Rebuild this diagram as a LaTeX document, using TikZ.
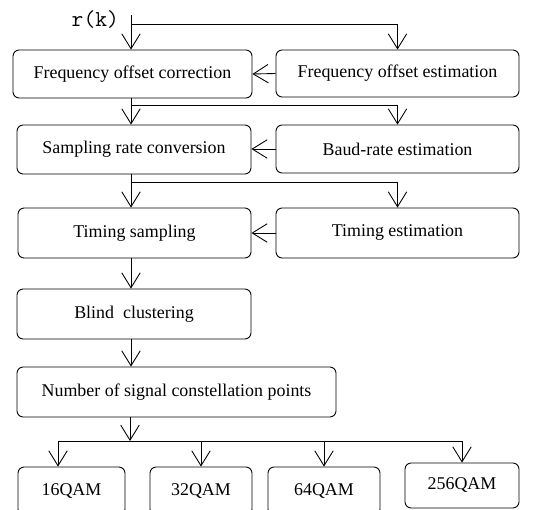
\documentclass[tikz,border=0pt]{standalone}
\usepackage{fontspec}
\setmainfont{Liberation Serif}
\usetikzlibrary{arrows.meta, positioning, calc}

\tikzset{
  blk/.style={draw, rounded corners=3.5pt, line width=0.5pt, inner sep=0pt,
    font=\fontsize{10.2}{12}\selectfont},
  arr/.style={line width=0.5pt, -{Straight Barb[length=8.5pt, width=10.5pt, line width=0.5pt]}},
  ln/.style={line width=0.5pt}
}

\begin{document}
\begin{tikzpicture}[x=0.02cm, y=-0.02cm]
  \useasboundingbox (0,0) rectangle (538,510);
  % left column
  \node[blk, minimum width=239*0.02cm, minimum height=48*0.02cm] (corr) at (132.5,74) {Frequency offset correction};
  \node[blk, minimum width=234*0.02cm, minimum height=49*0.02cm] (src) at (134,149.5) {Sampling rate conversion};
  \node[blk, minimum width=233*0.02cm, minimum height=50*0.02cm] (tsamp) at (134.5,233) {Timing sampling};
  \node[blk, minimum width=234*0.02cm, minimum height=50*0.02cm] (blind) at (134,314) {Blind\ \ clustering};
  \node[blk, minimum width=319*0.02cm, minimum height=50*0.02cm] (num) at (176.5,392) {Number of signal constellation points};
  % right column
  \node[blk, minimum width=243*0.02cm, minimum height=47*0.02cm] (foest) at (397.5,73.5) {Frequency offset estimation};
  \node[blk, minimum width=243*0.02cm, minimum height=48*0.02cm] (baud) at (397.5,149) {Baud-rate estimation};
  \node[blk, minimum width=243*0.02cm, minimum height=50*0.02cm] (test) at (397.5,233) {Timing estimation};
  % modulation types
  \node[blk, minimum width=107*0.02cm, minimum height=48*0.02cm] (q16) at (71.5,491) {16QAM};
  \node[blk, minimum width=102*0.02cm, minimum height=48*0.02cm] (q32) at (201,491) {32QAM};
  \node[blk, minimum width=112*0.02cm, minimum height=48*0.02cm] (q64) at (324,491) {64QAM};
  \node[blk, minimum width=114*0.02cm, minimum height=45*0.02cm] (q256) at (462,485.5) {256QAM};

  % input
  \coordinate (in) at (131,15);
  \coordinate (b0) at (131,24);
  \node[font=\ttfamily\fontsize{13}{14}\selectfont, anchor=east] (rk) at (125,20) {r(k)};
  \draw[arr] (in) -- (corr.north -| in);
  \draw[arr] (b0) -| (foest.north);
  \draw[arr] (foest.west) -- (corr.east);
  % second stage
  \coordinate (b1) at (131,105);
  \draw[arr] (corr.south -| b1) -- (src.north -| b1);
  \draw[arr] (b1) -| (baud.north);
  \draw[arr] (baud.west) -- (src.east |- baud.west);
  % third stage
  \coordinate (b2) at (131,182);
  \draw[arr] (src.south -| b2) -- (tsamp.north -| b2);
  \draw[arr] (b2) -| (test.north);
  \draw[arr] (test.west) -- (tsamp.east);
  % clustering
  \draw[arr] (tsamp.south -| b2) -- (blind.north -| b2);
  \draw[arr] (blind.south -| b2) -- (num.north -| b2);
  % branch to QAM orders
  \coordinate (b4) at (130,441);
  \coordinate (t16) at (58,441);
  \draw[arr] (num.south -| b4) -- (b4);
  \draw[ln] (t16) -- (q256.north |- b4);
  \draw[arr] (t16) -- (q16.north -| t16);
  \foreach \q in {q32,q64,q256}
    \draw[arr] (\q.north |- b4) -- (\q.north);
\end{tikzpicture}
\end{document}
